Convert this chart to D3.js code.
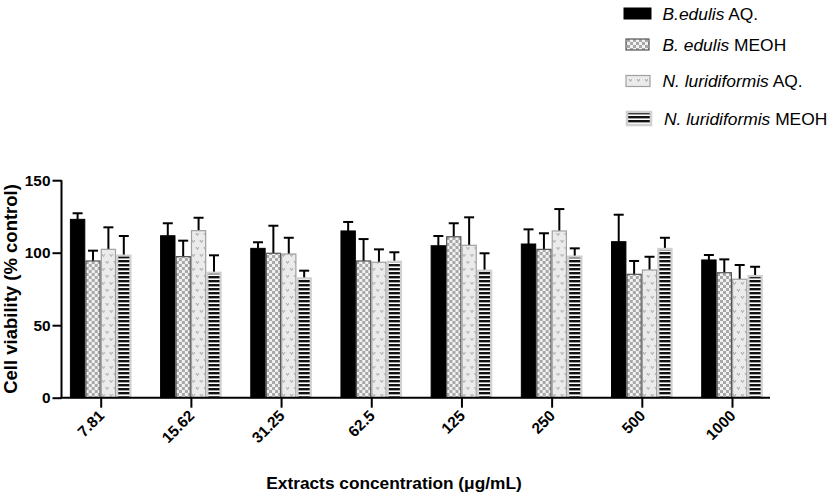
<!DOCTYPE html>
<html><head><meta charset="utf-8">
<script src="https://cdn.jsdelivr.net/npm/d3@7"></script>
<style>body{margin:0;background:#fff;}svg{display:block;font-family:"Liberation Sans",Arial,sans-serif;}</style>
</head><body><svg id="c" width="829" height="496"></svg>
<script>
const categories = ["7.81","15.62","31.25","62.5","125","250","500","1000"];
const seriesNames = ["beAQ","beME","nlAQ","nlME"];
const beAQ = [123, 111.7, 103, 115, 104.8, 106, 107.6, 95];
const beAQErr = [4.2, 8.6, 4.2, 6.2, 6.7, 10.1, 18.6, 3.4];
const beME = [94.3, 97.3, 99.6, 94.3, 111, 102.3, 85.1, 86.2];
const beMEErr = [7.1, 11, 19, 15.1, 9.3, 11.1, 9.2, 9.2];
const nlAQ = [102.3, 115.2, 99.1, 93.4, 105.1, 115, 88.1, 81.7];
const nlAQErr = [15.2, 8.9, 11.2, 8.9, 19.3, 15.1, 9.1, 9.8];
const nlME = [98, 86.2, 82.3, 93.8, 87.6, 97.3, 102.6, 83.9];
const nlMEErr = [13.5, 12, 5.3, 6.5, 12, 5.7, 7.7, 6.4];
const yTicks = [0, 50, 100, 150];
const legendItems = [
  {key:"beAQ", it:"B.edulis", rest:" AQ."},
  {key:"beME", it:"B. edulis", rest:" MEOH"},
  {key:"nlAQ", it:"N. luridiformis", rest:" AQ."},
  {key:"nlME", it:"N. luridiformis", rest:" MEOH"}
];

const values = {beAQ, beME, nlAQ, nlME};
const errs = {beAQ: beAQErr, beME: beMEErr, nlAQ: nlAQErr, nlME: nlMEErr};

const svg = d3.select("#c");
const defs = svg.append("defs");

// checker pattern
const pc = defs.append("pattern").attr("id","checker").attr("patternUnits","userSpaceOnUse").attr("width",6).attr("height",6);
pc.append("rect").attr("width",6).attr("height",6).attr("fill","#f2f2f2");
pc.append("rect").attr("width",3).attr("height",3).attr("fill","#a8a8a8");
pc.append("rect").attr("x",3).attr("y",3).attr("width",3).attr("height",3).attr("fill","#a8a8a8");

// v-mark pattern
const pd = defs.append("pattern").attr("id","vdots").attr("patternUnits","userSpaceOnUse").attr("width",8).attr("height",14);
pd.append("rect").attr("width",8).attr("height",14).attr("fill","#ebebeb");
pd.append("path").attr("d","M1,2 L2.5,4.5 L4,2").attr("fill","none").attr("stroke","#9a9a9a").attr("stroke-width",0.9);
pd.append("path").attr("d","M5,9 L6.5,11.5 L8,9").attr("fill","none").attr("stroke","#9a9a9a").attr("stroke-width",0.9);

// stripes pattern
const ps = defs.append("pattern").attr("id","stripes").attr("patternUnits","userSpaceOnUse").attr("width",4).attr("height",4);
ps.append("rect").attr("width",4).attr("height",4).attr("fill","#ffffff");
ps.append("rect").attr("width",4).attr("height",2.4).attr("fill","#111");

const styles = {
  beAQ: {fill:"#000", stroke:"#000", sw:1},
  beME: {fill:"url(#checker)", stroke:"#555", sw:1.2},
  nlAQ: {fill:"url(#vdots)", stroke:"#a0a0a0", sw:1.2},
  nlME: {fill:"url(#stripes)", stroke:"#d0d0d0", sw:2.2}
};

const y = d3.scaleLinear().domain([0,150]).range([397.7,180.2]);
const x0 = d3.scalePoint().domain(categories).range([100.7, 732]);
const x1 = d3.scaleBand().domain(seriesNames).range([-30.8, 30.8]).padding(0);

// bars
const groups = svg.append("g").selectAll("g").data(categories).join("g")
  .attr("transform", d => `translate(${x0(d)},0)`);

groups.each(function(cat, ci){
  const g = d3.select(this);
  seriesNames.forEach(s => {
    const v = values[s][ci], e = errs[s][ci];
    const st = styles[s];
    const bx = x1(s), bw = x1.bandwidth();
    const cx = bx + bw/2;
    g.append("line").attr("x1",cx).attr("x2",cx).attr("y1",y(v)).attr("y2",y(v+e))
      .attr("stroke","#000").attr("stroke-width",2);
    g.append("line").attr("x1",cx-5).attr("x2",cx+5).attr("y1",y(v+e)).attr("y2",y(v+e))
      .attr("stroke","#000").attr("stroke-width",2);
    g.append("rect").attr("x",bx + st.sw/2).attr("y",y(v)).attr("width",bw - st.sw).attr("height",y(0)-y(v))
      .attr("fill",st.fill).attr("stroke",st.stroke).attr("stroke-width",st.sw);
  });
});

// y axis
const yAxis = d3.axisLeft(y).tickValues(yTicks).tickSize(9).tickPadding(2);
const gy = svg.append("g").attr("transform","translate(61.5,0)").call(yAxis);
gy.select(".domain").attr("stroke","#000").attr("stroke-width",2).attr("d",`M0,${y(150)}V${y(0)}`);
gy.selectAll(".tick line").attr("stroke","#000").attr("stroke-width",2);
gy.selectAll(".tick text").attr("font-size",15.4).attr("font-weight","bold").attr("fill","#000").attr("dy","0.34em");

// x axis
const xAxis = d3.axisBottom(x0).tickSize(10).tickSizeOuter(0);
const gx = svg.append("g").attr("transform",`translate(0,${y(0)})`).call(xAxis);
gx.select(".domain").attr("stroke","#000").attr("stroke-width",2).attr("d","M60.5,0H770");
gx.selectAll(".tick line").attr("stroke","#000").attr("stroke-width",2);
gx.selectAll(".tick text").attr("font-size",15.4).attr("font-weight","bold").attr("fill","#000")
  .attr("text-anchor","end").attr("dy",0).attr("y",0)
  .attr("transform","translate(4,19) rotate(-45)");

// axis titles
svg.append("text").attr("x",394).attr("y",489).attr("text-anchor","middle")
  .attr("font-size",17.3).attr("font-weight","bold").text("Extracts concentration (\u03bcg/mL)");
svg.append("text").attr("transform",`translate(17,${(y(0)+y(150))/2}) rotate(-90)`).attr("text-anchor","middle")
  .attr("font-size",18.5).attr("font-weight","bold").text("Cell viability (% control)");

// legend
const legY = [13.5, 44.5, 81, 118.5];
const swatch = [
  {x:624, w:27, h:11},
  {x:626, w:23, h:11},
  {x:626, w:24, h:11},
  {x:627, w:24, h:13}
];
legendItems.forEach((it,i) => {
  const st = styles[it.key];
  const sw = swatch[i];
  svg.append("rect").attr("x",sw.x).attr("y",legY[i]-sw.h/2).attr("width",sw.w).attr("height",sw.h)
    .attr("fill",st.fill).attr("stroke",st.stroke).attr("stroke-width",i===3?2.5:st.sw);
  const t = svg.append("text").attr("x", i===3?664:662.5).attr("y",legY[i]+6.2).attr("font-size",17.4).attr("fill","#000");
  t.append("tspan").attr("font-style","italic").text(it.it);
  t.append("tspan").text(it.rest);
});
</script></body></html>
